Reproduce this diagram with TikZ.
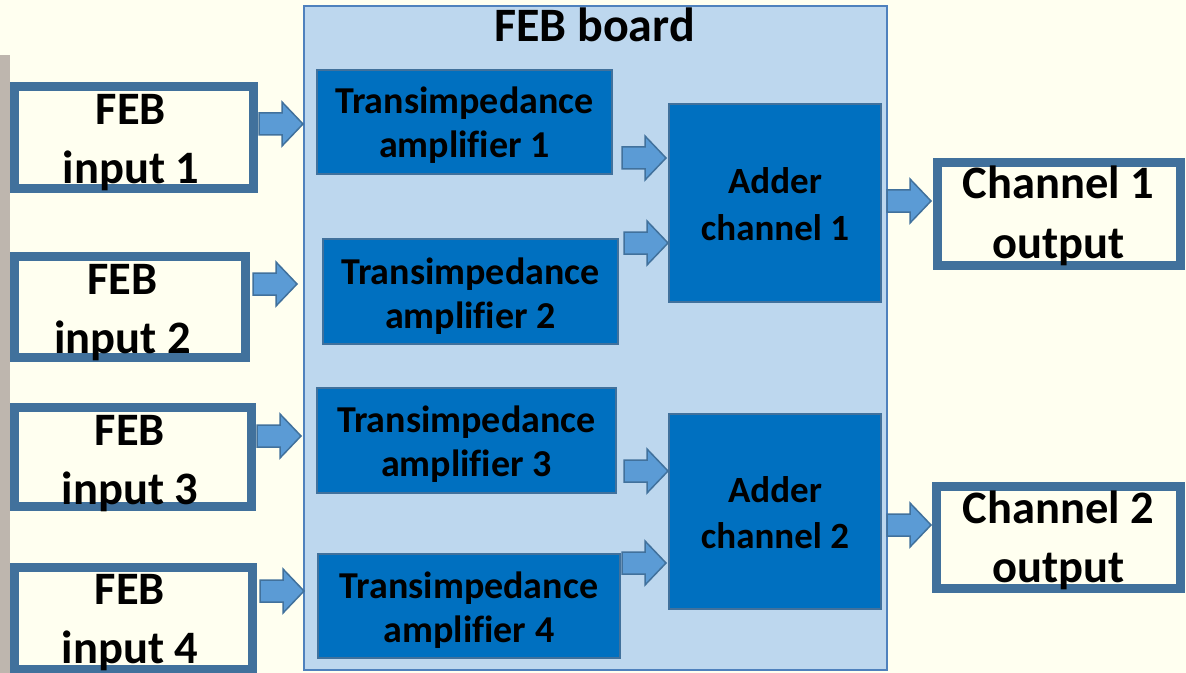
\documentclass[tikz,border=0pt]{standalone}
\usepackage{fontspec}
\setmainfont[Ligatures=NoCommon]{Carlito}
\definecolor{bgc}{HTML}{FFFFF0}
\definecolor{stripc}{HTML}{BEB6AE}
\definecolor{boxline}{HTML}{41719C}
\definecolor{boardfill}{HTML}{BDD7EE}
\definecolor{boardline}{HTML}{4F81BD}
\definecolor{tablue}{HTML}{0070C0}
\definecolor{arrfill}{HTML}{5B9BD5}
\begin{document}
\begin{tikzpicture}[x=1bp,y=-1bp,
  inbox/.style={draw=boxline, line width=9bp, fill=bgc, inner sep=0pt, outer sep=0pt},
  bluebox/.style={draw=boxline, line width=2bp, fill=tablue, inner sep=0pt, outer sep=0pt},
  boardbox/.style={draw=boardline, line width=2bp, fill=boardfill, inner sep=0pt, outer sep=0pt},
  arrowst/.style={draw=boxline, line width=1.5bp, fill=arrfill, line join=miter},
  bigtxt/.style={font=\fontsize{46.5bp}{59bp}\selectfont\bfseries, align=center, anchor=base, inner sep=0pt},
  titletxt/.style={font=\fontsize{48bp}{59bp}\selectfont\bfseries, anchor=base, inner sep=0pt},
  tatxt/.style={font=\fontsize{38bp}{44bp}\selectfont\bfseries, align=center, anchor=base, inner sep=0pt},
  adtxt/.style={font=\fontsize{37bp}{46bp}\selectfont\bfseries, align=center, anchor=base, inner sep=0pt},
  barrow/.pic={\draw[arrowst] (0,-11) -- (23,-11) -- (23,-22) -- (44,0) -- (23,22) -- (23,11) -- (0,11) -- cycle;}
]
\useasboundingbox (0,0) rectangle (1186,673);
\fill[bgc] (0,0) rectangle (1186,673);
\fill[stripc] (0,55) rectangle (10,673);

% board
\node[boardbox, minimum width=583bp, minimum height=664bp] (board) at (595.5,338) {};
\node[titletxt] (title) at (594.5,42) {FEB board};

% inputs
\node[inbox, minimum width=239bp, minimum height=102bp] (in1) at (134,137.5) {};
\node[inbox, minimum width=231bp, minimum height=101bp] (in2) at (130,307) {};
\node[inbox, minimum width=237bp, minimum height=99bp] (in3) at (133,457) {};
\node[inbox, minimum width=238bp, minimum height=102bp] (in4) at (133.5,618.5) {};
\node[bigtxt] (in1t) at (131,184) {FEB\\input 1};
\node[bigtxt] (in2t) at (122.5,353) {FEB\\input 2};
\node[bigtxt] (in3t) at (130,504) {FEB\\input 3};
\node[bigtxt] (in4t) at (130,663) {FEB\\input 4};

% transimpedance amplifiers
\node[bluebox, minimum width=295bp, minimum height=104bp] (ta1) at (464.5,122) {};
\node[bluebox, minimum width=295bp, minimum height=105bp] (ta2) at (470.5,291.5) {};
\node[bluebox, minimum width=299bp, minimum height=105bp] (ta3) at (466.5,440.5) {};
\node[bluebox, minimum width=302bp, minimum height=104bp] (ta4) at (469,606) {};
\node[tatxt] (ta1t) at (ta1.center |- 0,158) {Transimpedance\\amplifier 1};
\node[tatxt] (ta2t) at (ta2.center |- 0,328) {Transimpedance\\amplifier 2};
\node[tatxt] (ta3t) at (ta3.center |- 0,476) {Transimpedance\\amplifier 3};
\node[tatxt] (ta4t) at (ta4.center |- 0,642) {Transimpedance\\amplifier 4};

% adders
\node[bluebox, minimum width=212bp, minimum height=198bp] (ad1) at (775,203) {};
\node[bluebox, minimum width=212bp, minimum height=195bp] (ad2) at (775,511.5) {};
\node[adtxt] (ad1t) at (775,240) {Adder\\channel 1};
\node[adtxt] (ad2t) at (775,548) {Adder\\channel 2};

% outputs
\node[inbox, minimum width=243bp, minimum height=103bp] (out1) at (1059,214) {};
\node[inbox, minimum width=244bp, minimum height=102bp] (out2) at (1058.5,537.5) {};
\node[bigtxt] (out1t) at (1058.5,258) {Channel 1\\output};
\node[bigtxt] (out2t) at (1058.5,582) {Channel 2\\output};

% block arrows
\pic (a1) at (259,124) {barrow};
\pic (a2) at (253,284) {barrow};
\pic (a3) at (257,436) {barrow};
\pic (a4) at (260,591) {barrow};
\pic (b1) at (622,158) {barrow};
\pic (b2) at (624,243) {barrow};
\pic (b3) at (624,471) {barrow};
\pic (b4) at (622,563) {barrow};
\pic (c1) at (887,201) {barrow};
\pic (c2) at (887,525) {barrow};
\end{tikzpicture}
\end{document}
